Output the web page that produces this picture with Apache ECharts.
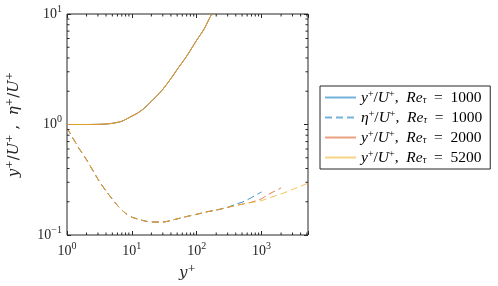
<!DOCTYPE html>
<html>
<head>
<meta charset="utf-8">
<script src="https://cdn.jsdelivr.net/npm/echarts@6/dist/echarts.min.js"></script>
<style>html,body{margin:0;padding:0;background:#fff;}#c{width:498px;height:286px;}</style>
</head>
<body>
<div id="c"></div>
<script>
// ---- data ----
const solidX = [1, 2, 3, 4, 5, 6, 7, 8, 10, 12, 15, 20, 25, 30, 40, 50, 70, 100, 130, 160, 200];
const solidY = [1.0, 1.0, 1.003, 1.01, 1.025, 1.045, 1.07, 1.11, 1.19, 1.26, 1.38, 1.62, 1.85, 2.08, 2.6, 3.15, 4.15, 5.8, 7.3, 9.3, 11.4];

const etaCommonX = [1, 1.5, 2, 3, 4, 6, 8, 10, 15, 20, 30, 50, 70, 100, 150, 200, 300];
const etaCommonY = [0.93, 0.62, 0.48, 0.32, 0.25, 0.185, 0.157, 0.145, 0.135, 0.131, 0.131, 0.14, 0.147, 0.154, 0.163, 0.168, 0.178];

const eta1000X = [400, 500, 600, 700, 800, 900, 1000];
const eta1000Y = [0.19, 0.198, 0.208, 0.218, 0.228, 0.237, 0.245];
const eta2000X = [500, 700, 1000, 1200, 1500, 1800, 2000];
const eta2000Y = [0.19, 0.198, 0.213, 0.228, 0.245, 0.258, 0.267];
const eta5200X = [500, 1000, 1500, 2000, 3000, 4000, 5200];
const eta5200Y = [0.19, 0.205, 0.222, 0.235, 0.258, 0.276, 0.295];

const legendNames = ['y1000', 'eta1000', 'y2000', 'y5200'];
const legendLabels = {
  y1000: '{i|y}{s|+}{t|/}{i|U}{s|+}{t|,  }{i|Re}{b|τ}{t|  =  1000}',
  eta1000: '{i|η}{s|+}{t|/}{i|U}{s|+}{t|,  }{i|Re}{b|τ}{t|  =  1000}',
  y2000: '{i|y}{s|+}{t|/}{i|U}{s|+}{t|,  }{i|Re}{b|τ}{t|  =  2000}',
  y5200: '{i|y}{s|+}{t|/}{i|U}{s|+}{t|,  }{i|Re}{b|τ}{t|  =  5200}'
};
const xMin = 1, xMax = 5200, yMin = 0.1, yMax = 10;
const xMinorTicks = [2,3,4,5,6,7,8,9,20,30,40,50,60,70,80,90,200,300,400,500,600,700,800,900,2000,3000,4000,5000];
const yMinorTicks = [0.2,0.3,0.4,0.5,0.6,0.7,0.8,0.9,2,3,4,5,6,7,8,9];

const colors = {blue: '#0072BD', orange: '#D95319', yellow: '#EDB120'};
const axisColor = '#262626';
const serif = 'Liberation Serif';
const wideSerif = 'DejaVu Serif';

function pairs(xs, ys) { return xs.map((x, i) => [x, ys[i]]); }
function etaData(xs, ys) { return pairs(etaCommonX, etaCommonY).concat(pairs(xs, ys)); }

const rich = {
  i: {fontFamily: serif, fontStyle: 'italic', fontSize: 15.5, color: '#000', lineHeight: 15},
  t: {fontFamily: serif, fontSize: 15.5, color: '#000', lineHeight: 15},
  s: {fontFamily: serif, fontSize: 10, color: '#000', lineHeight: 10, padding: [0, 0, 7, 0]},
  b: {fontFamily: serif, fontStyle: 'italic', fontSize: 10, color: '#000', lineHeight: 10, padding: [5, 0, 0, 0]}
};
const richBig = {
  i: {fontFamily: wideSerif, fontStyle: 'italic', fontSize: 15, color: '#262626'},
  t: {fontFamily: wideSerif, fontSize: 15, color: '#262626'},
  s: {fontFamily: wideSerif, fontSize: 10, color: '#262626', padding: [0, 0, 11, 0]}
};
const tickRich = {
  b: {fontFamily: serif, fontSize: 14, color: '#262626'},
  s: {fontFamily: serif, fontSize: 10, color: '#262626', padding: [0, 0, 10, 0]}
};
function tickFmt(v) {
  const l = Math.log10(v);
  const e = Math.round(l);
  if (Math.abs(l - e) > 1e-6) return '';
  return '{b|10}{s|' + (e < 0 ? '\u2212' + (-e) : e) + '}';
}

function lineSeries(name, data, color, dashed, z) {
  return {
    name: name, type: 'line', data: data, symbol: 'none', showSymbol: false,
    smooth: 0.2, z: z, silent: true,
    lineStyle: {color: color, width: 1, opacity: 0.8, type: dashed ? [7, 4] : 'solid'},
    itemStyle: {color: color}
  };
}

// minor ticks data: [x, y, kind] kind 0 = x tick, 1 = y tick
const tickData = xMinorTicks.map(v => [v, yMin, 0]).concat(yMinorTicks.map(v => [xMin, v, 1]));

const chart = echarts.init(document.getElementById('c'), null, {renderer: 'canvas'});
chart.setOption({
  animation: false,
  grid: {left: 67, right: 190, top: 14, bottom: 51, show: true, borderColor: axisColor, borderWidth: 1, backgroundColor: '#fff'},
  xAxis: [{
    type: 'log', min: xMin, max: xMax, logBase: 10,
    axisLine: {show: false},
    axisTick: {show: true, inside: true, length: 4, lineStyle: {color: axisColor}},
    axisLabel: {formatter: tickFmt, rich: tickRich, margin: 6},
    splitLine: {show: false},
    name: '{i|y}{s|+}', nameLocation: 'middle', nameGap: 28,
    nameTextStyle: {rich: richBig}
  }, {
    type: 'log', min: xMin, max: xMax, logBase: 10, position: 'top',
    axisLine: {show: false},
    axisTick: {show: true, inside: true, length: 4, lineStyle: {color: axisColor}},
    axisLabel: {show: false}, splitLine: {show: false}
  }],
  yAxis: [{
    type: 'log', min: yMin, max: yMax, logBase: 10,
    axisLine: {show: false},
    axisTick: {show: true, inside: true, length: 4, lineStyle: {color: axisColor}},
    axisLabel: {formatter: tickFmt, rich: tickRich, margin: 5},
    splitLine: {show: false},
    name: '{i|y}{s|+}{t|/}{i|U}{s|+}{t| ,  }{i|η}{s|+}{t|/}{i|U}{s|+}',
    nameLocation: 'middle', nameGap: 42, nameRotate: 90,
    nameTextStyle: {rich: richBig}
  }, {
    type: 'log', min: yMin, max: yMax, logBase: 10, position: 'right',
    axisLine: {show: false},
    axisTick: {show: true, inside: true, length: 4, lineStyle: {color: axisColor}},
    axisLabel: {show: false}, splitLine: {show: false}
  }],
  legend: {
    data: legendNames, orient: 'vertical', left: 320, top: 86,
    itemWidth: 31, itemHeight: 10, itemGap: 3,
    padding: [3, 8, 3, 4],
    borderColor: axisColor, borderWidth: 1, backgroundColor: '#fff',
    itemStyle: {opacity: 0},
    lineStyle: {opacity: 0.55},
    formatter: n => legendLabels[n],
    textStyle: {rich: rich, lineHeight: 15},
    selectedMode: false
  },
  series: [
    lineSeries('eta1000', etaData(eta1000X, eta1000Y), colors.blue, true, 2),
    lineSeries('eta2000', etaData(eta2000X, eta2000Y), colors.orange, true, 3),
    lineSeries('eta5200', etaData(eta5200X, eta5200Y), colors.yellow, true, 4),
    lineSeries('y1000', pairs(solidX, solidY), colors.blue, false, 2),
    lineSeries('y2000', pairs(solidX, solidY), colors.orange, false, 3),
    lineSeries('y5200', pairs(solidX, solidY), colors.yellow, false, 4),
    {
      type: 'custom', silent: true, z: 10, clip: false,
      data: tickData,
      renderItem: function (params, api) {
        const kind = api.value(2);
        const L = 2.5;
        if (kind === 0) {
          const b = api.coord([api.value(0), yMin]);
          const t = api.coord([api.value(0), yMax]);
          return {type: 'group', children: [
            {type: 'line', shape: {x1: b[0], y1: b[1], x2: b[0], y2: b[1] - L}, style: {stroke: axisColor, lineWidth: 1}},
            {type: 'line', shape: {x1: t[0], y1: t[1], x2: t[0], y2: t[1] + L}, style: {stroke: axisColor, lineWidth: 1}}
          ]};
        } else {
          const l = api.coord([xMin, api.value(1)]);
          const r = api.coord([xMax, api.value(1)]);
          return {type: 'group', children: [
            {type: 'line', shape: {x1: l[0], y1: l[1], x2: l[0] + L, y2: l[1]}, style: {stroke: axisColor, lineWidth: 1}},
            {type: 'line', shape: {x1: r[0], y1: r[1], x2: r[0] - L, y2: r[1]}, style: {stroke: axisColor, lineWidth: 1}}
          ]};
        }
      }
    }
  ]
});
</script>
</body>
</html>
